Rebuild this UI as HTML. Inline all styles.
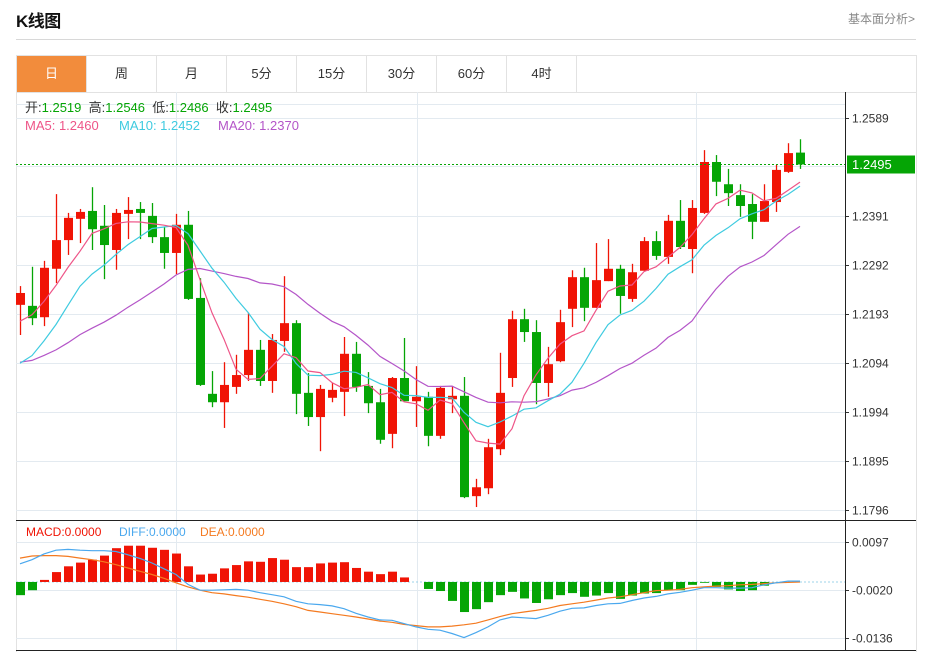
<!DOCTYPE html>
<html><head><meta charset="utf-8">
<style>
html,body{margin:0;padding:0;background:#fff;width:933px;height:653px;overflow:hidden;font-family:"Liberation Sans","Noto Sans CJK SC",sans-serif;}
#title{position:absolute;left:16px;top:7px;font-size:17px;font-weight:bold;color:#111;letter-spacing:-0.5px}
#more{position:absolute;right:18px;top:10px;font-size:12px;color:#888}
#hr{position:absolute;left:16px;top:39px;width:900px;height:1px;background:#d8d8d8}
#box{position:absolute;left:16px;top:55px;width:899px;height:596px;border:1px solid #e2e2e2;border-bottom:none}
#tabs{position:absolute;left:0;top:0;height:36px;width:899px;border-bottom:1px solid #e2e2e2}
.tab{position:absolute;top:0;width:69px;height:36px;line-height:36px;text-align:center;font-size:13px;color:#333;border-right:1px solid #e2e2e2}
.tab.on{background:#f28c3c;color:#fff}
svg{position:absolute;left:0;top:0}
</style></head><body>
<div id="title">K线图</div>
<div id="more">基本面分析&gt;</div>
<div id="hr"></div>
<div id="box">
 <div id="tabs">
  <div class="tab on" style="left:0">日</div>
  <div class="tab" style="left:70px">周</div>
  <div class="tab" style="left:140px">月</div>
  <div class="tab" style="left:210px">5分</div>
  <div class="tab" style="left:280px">15分</div>
  <div class="tab" style="left:350px">30分</div>
  <div class="tab" style="left:420px">60分</div>
  <div class="tab" style="left:490px">4时</div>
 </div>
</div>
<svg id="chart" width="933" height="653"></svg>
<script>
const opens=[1.2211,1.2209,1.2186,1.2284,1.2342,1.2385,1.2401,1.2371,1.2322,1.2395,1.2405,1.2391,1.2348,1.2316,1.2373,1.2225,1.2031,1.2014,1.2045,1.2069,1.2120,1.2057,1.2138,1.2174,1.2033,1.1984,1.2023,1.2035,1.2112,1.2047,1.2014,1.1950,1.2063,1.2016,1.2025,1.1946,1.2020,1.2027,1.1824,1.1840,1.1919,1.2063,1.2182,1.2156,1.2053,1.2097,1.2203,1.2267,1.2205,1.2259,1.2284,1.2223,1.2280,1.2340,1.2308,1.2381,1.2324,1.2397,1.2500,1.2455,1.2433,1.2415,1.2379,1.2419,1.2480,1.2519];
const highs=[1.2249,1.2288,1.2300,1.2435,1.2397,1.2405,1.2449,1.2413,1.2405,1.2429,1.2419,1.2417,1.2369,1.2395,1.2401,1.2265,1.2077,1.2095,1.2110,1.2195,1.2140,1.2152,1.2269,1.2180,1.2073,1.2049,1.2053,1.2146,1.2136,1.2075,1.2041,1.2065,1.2144,1.2087,1.2035,1.2047,1.2047,1.2065,1.1859,1.1940,1.2114,1.2199,1.2203,1.2180,1.2126,1.2201,1.2281,1.2286,1.2336,1.2344,1.2292,1.2294,1.2348,1.2360,1.2393,1.2423,1.2423,1.2524,1.2514,1.2486,1.2455,1.2435,1.2455,1.2494,1.2538,1.2546];
const lows=[1.2150,1.2170,1.2168,1.2255,1.2312,1.2336,1.2322,1.2263,1.2282,1.2344,1.2344,1.2336,1.2284,1.2273,1.2221,1.2047,1.2004,1.1962,1.2031,1.2057,1.2047,1.2033,1.2116,1.1990,1.1966,1.1915,1.2014,1.1986,1.2035,1.1992,1.1930,1.1921,1.2016,1.1964,1.1925,1.1940,1.1992,1.1820,1.1802,1.1828,1.1907,1.2045,1.2136,1.2010,1.2025,1.2095,1.2166,1.2178,1.2205,1.2259,1.2193,1.2217,1.2280,1.2302,1.2294,1.2324,1.2275,1.2395,1.2431,1.2411,1.2389,1.2344,1.2379,1.2399,1.2478,1.2486];
const closes=[1.2235,1.2184,1.2286,1.2342,1.2387,1.2399,1.2364,1.2332,1.2397,1.2403,1.2397,1.2348,1.2316,1.2373,1.2223,1.2049,1.2014,1.2049,1.2069,1.2120,1.2057,1.2140,1.2174,1.2031,1.1984,1.2041,1.2039,1.2112,1.2045,1.2012,1.1938,1.2063,1.2016,1.2025,1.1946,1.2043,1.2027,1.1822,1.1842,1.1923,1.2033,1.2182,1.2156,1.2053,1.2091,1.2176,1.2267,1.2205,1.2261,1.2284,1.2229,1.2277,1.2340,1.2310,1.2381,1.2328,1.2407,1.2500,1.2460,1.2437,1.2411,1.2379,1.2421,1.2484,1.2518,1.2495];
const priorCloses=[1.2110,1.2085,1.2120,1.2095,1.2070,1.2105,1.2090,1.2115,1.2080,1.2100,1.2030,1.1990,1.2010,1.1995,1.2015,1.2120,1.2150,1.2180,1.2205];
const histValues=[-0.0032,-0.0020,0.0005,0.0024,0.0038,0.0047,0.0054,0.0064,0.0082,0.0088,0.0088,0.0083,0.0078,0.0069,0.0038,0.0018,0.0020,0.0033,0.0041,0.0050,0.0049,0.0058,0.0054,0.0036,0.0036,0.0045,0.0047,0.0048,0.0034,0.0025,0.0019,0.0025,0.0011,0,-0.0017,-0.0022,-0.0046,-0.0073,-0.0066,-0.0049,-0.0032,-0.0024,-0.0040,-0.0051,-0.0042,-0.0032,-0.0027,-0.0036,-0.0033,-0.0027,-0.0041,-0.0033,-0.0028,-0.0027,-0.0020,-0.0020,-0.0007,-0.0002,-0.0012,-0.0018,-0.0022,-0.0020,-0.0009,0,0,0];
const diffValues=[0.0044,0.0054,0.0068,0.0077,0.0079,0.0077,0.0076,0.0076,0.0074,0.0066,0.0057,0.0046,0.0032,0.0018,-0.0006,-0.0020,-0.0020,-0.0019,-0.0018,-0.0020,-0.0026,-0.0031,-0.0036,-0.0047,-0.0053,-0.0055,-0.0058,-0.0065,-0.0076,-0.0085,-0.0092,-0.0093,-0.0101,-0.0109,-0.0115,-0.0117,-0.0125,-0.0135,-0.0123,-0.0109,-0.0092,-0.0085,-0.0087,-0.0089,-0.0081,-0.0071,-0.0064,-0.0063,-0.0057,-0.0053,-0.0052,-0.0045,-0.0039,-0.0035,-0.0029,-0.0025,-0.0020,-0.0014,-0.0014,-0.0015,-0.0015,-0.0014,-0.0007,-0.0002,0.0002,0.0002];
const deaValues=[0.0058,0.0063,0.0064,0.0064,0.0062,0.0058,0.0054,0.0049,0.0042,0.0034,0.0026,0.0018,0.0009,-0.0002,-0.0012,-0.0020,-0.0026,-0.0029,-0.0033,-0.0037,-0.0042,-0.0047,-0.0053,-0.0060,-0.0069,-0.0073,-0.0077,-0.0081,-0.0085,-0.0090,-0.0095,-0.0098,-0.0103,-0.0106,-0.0109,-0.0109,-0.0107,-0.0104,-0.0100,-0.0092,-0.0084,-0.0077,-0.0073,-0.0069,-0.0064,-0.0057,-0.0053,-0.0049,-0.0044,-0.0039,-0.0036,-0.0031,-0.0026,-0.0021,-0.0020,-0.0018,-0.0014,-0.0012,-0.0010,-0.0009,-0.0007,-0.0006,-0.0004,-0.0002,-0.0001,0];
const priceTicks=[1.2589,1.2491,1.2391,1.2292,1.2193,1.2094,1.1994,1.1895,1.1796];
const priceTickLabels=["1.2589","","1.2391","1.2292","1.2193","1.2094","1.1994","1.1895","1.1796"];
const macdTicks=[0.0097,-0.0020,-0.0136];
const macdTickLabels=["0.0097","-0.0020","-0.0136"];
const lastClose=1.2495;

const NS="http://www.w3.org/2000/svg";
const svg=document.getElementById('chart');
function el(tag,attrs,parent){const e=document.createElementNS(NS,tag);for(const k in attrs)e.setAttribute(k,attrs[k]);(parent||svg).appendChild(e);return e;}
const L=16,R=845;
const xOf=i=>20+12*i;
const yP=p=>118+(1.2589-p)*(392/(1.2589-1.1796));
const yM=v=>542+(0.0097-v)*(96/(0.0097+0.0136));
const RED="#f01405",GREEN="#05a505";

priceTicks.forEach((t,k)=>{const y=Math.round(yP(t))+0.5;
 const g=el('line',{x1:L,x2:R,y1:y,y2:y,stroke:"#e3eaf0","stroke-width":1});
 
 if(priceTickLabels[k]){el('line',{x1:R,x2:R+4,y1:y,y2:y,stroke:"#333"});
 const tx=el('text',{x:R+7,y:y+4,"font-size":12,fill:"#333"});tx.textContent=priceTickLabels[k];
 }
});
el('line',{x1:L,x2:R,y1:104.5,y2:104.5,stroke:"#e3eaf0"});
macdTicks.forEach((t,k)=>{const y=Math.round(yM(t))+0.5;
 const g=el('line',{x1:L,x2:R,y1:y,y2:y,stroke:"#e3eaf0"});
 
 el('line',{x1:R,x2:R+4,y1:y,y2:y,stroke:"#333"});
 const tx=el('text',{x:R+7,y:y+4,"font-size":12,fill:"#333"});tx.textContent=macdTickLabels[k];
 
});
[176.5,417.5,696.5].forEach(x=>{el('line',{x1:x,x2:x,y1:92,y2:650,stroke:"#e3eaf0"});});
el('line',{x1:845.5,x2:845.5,y1:92,y2:651,stroke:"#222"});
el('line',{x1:L,x2:916,y1:520.5,y2:520.5,stroke:"#222"});
el('line',{x1:L,x2:916,y1:650.5,y2:650.5,stroke:"#222"});

const all=priorCloses.concat(closes);
function ma(n){return closes.map((c,i)=>{let s=0;const j=i+priorCloses.length;for(let k=j-n+1;k<=j;k++)s+=all[k];return s/n;});}
function poly(vals,yf,color,name){const pts=vals.map((v,i)=>xOf(i)+","+yf(v).toFixed(1)).join(" ");
 const p=el('polyline',{points:pts,fill:"none",stroke:color,"stroke-width":1.2});
 }

closes.forEach((c,i)=>{const o=opens[i],x=xOf(i),up=c>=o,col=up?RED:GREEN;
 const g=el('g',{});
 
 el('line',{x1:x+0.5,x2:x+0.5,y1:yP(highs[i]),y2:yP(lows[i]),stroke:col,"stroke-width":1.3},g);
 const top=yP(Math.max(o,c)),bot=yP(Math.min(o,c));
 el('rect',{x:x-4,y:top,width:9,height:Math.max(1,bot-top),fill:col},g);
});
poly(ma(20),yP,"#b455c8","ma20-line");
poly(ma(10),yP,"#3fcbe0","ma10-line");
poly(ma(5),yP,"#ee5588","ma5-line");

const ly=Math.round(yP(lastClose))+0.5;
const dl=el('line',{x1:L,x2:R,y1:ly,y2:ly,stroke:GREEN,"stroke-dasharray":"2,2"});

el('rect',{x:847,y:ly-9,width:68,height:18,fill:GREEN});
const lt=el('text',{x:852,y:ly+4.5,"font-size":13,fill:"#fff"});lt.textContent=lastClose.toFixed(4);


const z=yM(0);
el('line',{x1:L,x2:R,y1:z,y2:z,stroke:"#9cd3e8","stroke-dasharray":"2,2"});
histValues.forEach((v,i)=>{if(v===0)return;const y=yM(v);
 const b=el('rect',{x:xOf(i)-4,y:Math.min(y,z),width:9,height:Math.abs(y-z),fill:v>0?RED:GREEN});
 });
poly(deaValues,yM,"#f47a20","dea-line");
poly(diffValues,yM,"#4aa8ee","diff-line");

function txt(x,y,s,c,name){const t=el('text',{x:x,y:y,"font-size":13,fill:c});t.textContent=s;return t;}
const l1=el('text',{x:25,y:112,"font-size":13,fill:"#333"});

[["开:","#333"],["1.2519  ",GREEN],["高:","#333"],["1.2546  ",GREEN],["低:","#333"],["1.2486  ",GREEN],["收:","#333"],["1.2495",GREEN]].forEach(([s,c])=>{const ts=el('tspan',{fill:c},l1);ts.textContent=s;});
l1.setAttribute('style','white-space:pre');
txt(25,130,"MA5: 1.2460","#ee5588","ma5-legend");
txt(119,130,"MA10: 1.2452","#3fcbe0","ma10-legend");
txt(218,130,"MA20: 1.2370","#b455c8","ma20-legend");
txt(26,536,"MACD:0.0000",RED,"macd-legend").setAttribute('font-size',12);
txt(119,536,"DIFF:0.0000","#4aa8ee","diff-legend").setAttribute('font-size',12);
txt(200,536,"DEA:0.0000","#f47a20","dea-legend").setAttribute('font-size',12);
</script>
</body></html>
